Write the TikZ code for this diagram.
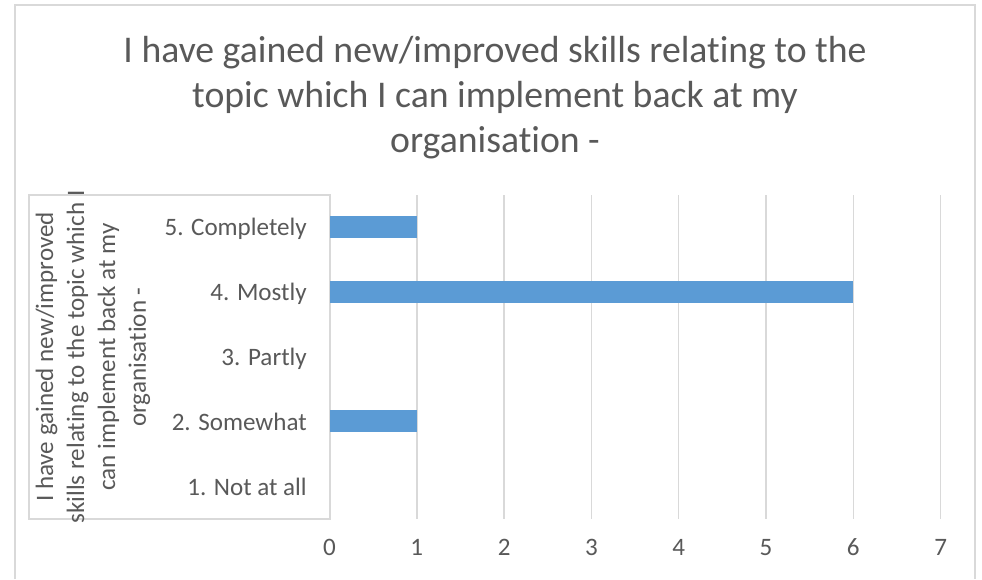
\documentclass[tikz,border=0pt]{standalone}
\usepackage{fontspec}
\setmainfont{Carlito}[Ligatures={NoCommon,NoRare}]
\usetikzlibrary{positioning}
\definecolor{txtgray}{HTML}{595959}
\definecolor{gridgray}{HTML}{D9D9D9}
\definecolor{barblue}{HTML}{5B9BD5}
\tikzset{
  charttitle/.style={anchor=base, inner sep=0pt, text=txtgray, font=\fontsize{28.3}{34.5}\selectfont},
  catlabel/.style={anchor=base east, inner sep=0pt, text=txtgray, font=\fontsize{18.8}{23.2}\selectfont},
  ticklabel/.style={anchor=base, inner sep=0pt, text=txtgray, font=\fontsize{18.8}{23.2}\selectfont},
  gridline/.style={draw=gridgray, line width=1.1pt},
  bar/.style={fill=barblue}
}

\begin{document}
\begin{tikzpicture}[x=0.75pt, y=-0.75pt]
				\useasboundingbox (0,0) rectangle (982,579);
				\fill[white] (0,0) rectangle (982,579);
				
				% chart frame, open at the bottom
				\draw[gridgray, line width=1.2pt] (15,579) |- (975,5) -- (975,579);
				
				% title
				\node[charttitle] (title1) at (495,62) {I have gained new/improved skills relating to the};
				\node[charttitle] (title2) at (495,107) {topic which I can implement back at my};
				\node[charttitle] (title3) at (495,152) {organisation -};
				
				% label box and grid
				\draw[gridline] (29,195) rectangle (330,519);
				\foreach \i in {1,...,7}
					\draw[gridline] (329.5+87.3*\i,195) -- (329.5+87.3*\i,519);
				
				% bars
				\fill[bar] (330,216) rectangle (416.8,238);
				\fill[bar] (330,281) rectangle (853.3,303);
				\fill[bar] (330,410) rectangle (416.8,432);
				
				% categories
				\node[catlabel] (cat5) at (307,235.5) {5. Completely};
				\node[catlabel] (cat4) at (307,300.5) {4. Mostly};
				\node[catlabel] (cat3) at (307,365.5) {3. Partly};
				\node[catlabel] (cat2) at (307,430.5) {2. Somewhat};
				\node[catlabel] (cat1) at (307,495) {1. Not at all};
				
				\node[rotate=90, align=center, inner sep=0pt, text=txtgray, font=\fontsize{18.8}{23.2}\selectfont] (axistitle) at (93,357)
					{I have gained new/improved\\skills relating to the topic which I\\can implement back at my\\organisation -};
				
				% value axis
				\foreach \v in {0,...,7}
					\node[ticklabel] (tick\v) at (329.5+87.3*\v,555) {\v};
			\end{tikzpicture}
\end{document}
